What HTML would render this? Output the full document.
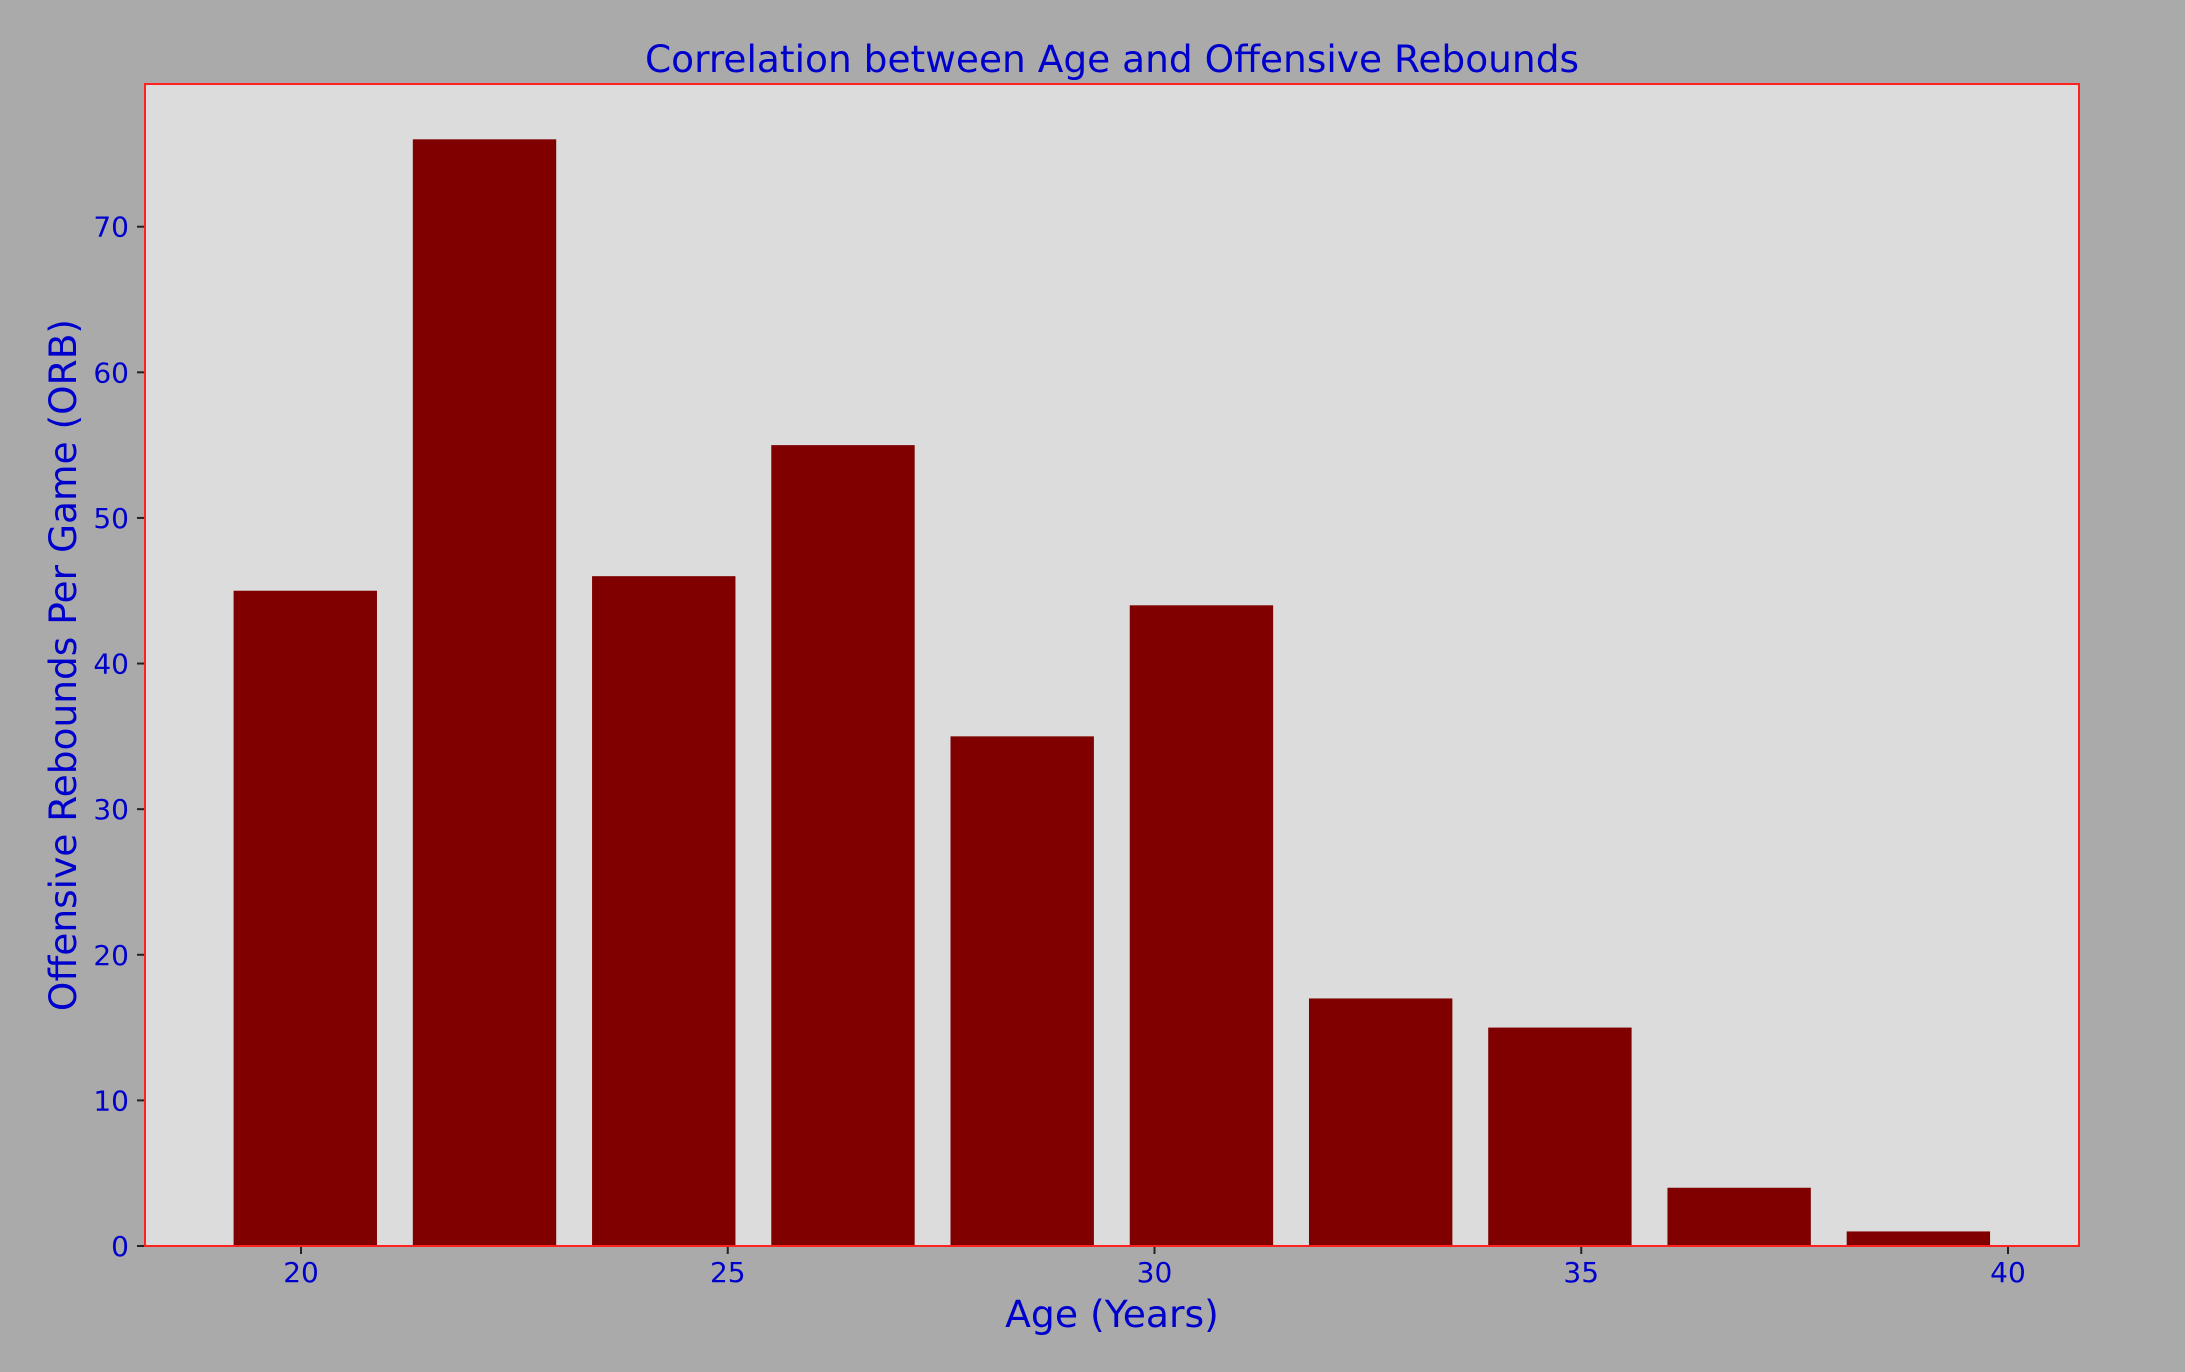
<!DOCTYPE html>
<html><head><meta charset="utf-8"><style>
html,body{margin:0;padding:0;background:#aaaaaa;}
svg{display:block;font-family:"DejaVu Sans","Liberation Sans",sans-serif;}
</style></head><body>
<svg id="chart" width="2185" height="1372" viewBox="0 0 2185 1372" xmlns="http://www.w3.org/2000/svg">
<rect x="0" y="0" width="2185" height="1372" fill="#aaaaaa"/>
<rect x="145" y="84" width="1934" height="1162" fill="#dcdcdc"/>
<g id="bars"></g>
<g id="xticks"></g>
<g id="yticks"></g>
<rect x="145" y="84" width="1934" height="1162" fill="none" stroke="#ff2020" stroke-width="2"/>
<text x="1112" y="72" font-size="37.5" fill="#0000cd" text-anchor="middle">Correlation between Age and Offensive Rebounds</text>
<text x="1112" y="1327" font-size="37.7" fill="#0000cd" text-anchor="middle">Age (Years)</text>
<text x="0" y="0" font-size="37.5" fill="#0000cd" text-anchor="middle" transform="translate(76,665) rotate(-90)">Offensive Rebounds Per Game (ORB)</text>
</svg>
<script>
const binCenters = [20.05, 22.15, 24.25, 26.35, 28.45, 30.55, 32.65, 34.75, 36.85, 38.95];
const orbValues = [45, 76, 46, 55, 35, 44, 17, 15, 4, 1];
const xTickValues = [20, 25, 30, 35, 40];
const yTickValues = [0, 10, 20, 30, 40, 50, 60, 70];
const barWidthUnits = 1.68;

const X0 = 145, X1 = 2079, Y0 = 1246, Y1 = 84;
const xMin = 18.172, xMax = 40.832, yMin = 0, yMax = 79.8;
const NS = 'http://www.w3.org/2000/svg';
function xs(v){ return X0 + (v - xMin) / (xMax - xMin) * (X1 - X0); }
function ys(v){ return Y0 - (v - yMin) / (yMax - yMin) * (Y0 - Y1); }

const bars = document.getElementById('bars');
binCenters.forEach((c, i) => {
  const r = document.createElementNS(NS, 'rect');
  const l = xs(c - barWidthUnits / 2), rr = xs(c + barWidthUnits / 2);
  r.setAttribute('x', l);
  r.setAttribute('width', rr - l);
  r.setAttribute('y', ys(orbValues[i]));
  r.setAttribute('height', ys(0) - ys(orbValues[i]));
  r.setAttribute('fill', '#800000');
  
  
  bars.appendChild(r);
});

const xt = document.getElementById('xticks');
xTickValues.forEach(v => {
  const ln = document.createElementNS(NS, 'line');
  ln.setAttribute('x1', xs(v)); ln.setAttribute('x2', xs(v));
  ln.setAttribute('y1', Y0); ln.setAttribute('y2', Y0 + 8);
  ln.setAttribute('stroke', '#222'); ln.setAttribute('stroke-width', '2');
  
  
  xt.appendChild(ln);
  const t = document.createElementNS(NS, 'text');
  t.setAttribute('x', xs(v)); t.setAttribute('y', 1282);
  t.setAttribute('font-size', '28'); t.setAttribute('fill', '#0000cd');
  t.setAttribute('text-anchor', 'middle');
  t.textContent = v;
  
  
  xt.appendChild(t);
});

const yt = document.getElementById('yticks');
yTickValues.forEach(v => {
  const ln = document.createElementNS(NS, 'line');
  ln.setAttribute('x1', X0 - 8); ln.setAttribute('x2', X0);
  ln.setAttribute('y1', ys(v)); ln.setAttribute('y2', ys(v));
  ln.setAttribute('stroke', '#222'); ln.setAttribute('stroke-width', '2');
  
  
  yt.appendChild(ln);
  const t = document.createElementNS(NS, 'text');
  t.setAttribute('x', 129); t.setAttribute('y', ys(v) + 10);
  t.setAttribute('font-size', '28'); t.setAttribute('fill', '#0000cd');
  t.setAttribute('text-anchor', 'end');
  t.textContent = v;
  
  
  yt.appendChild(t);
});
</script>
</body></html>
